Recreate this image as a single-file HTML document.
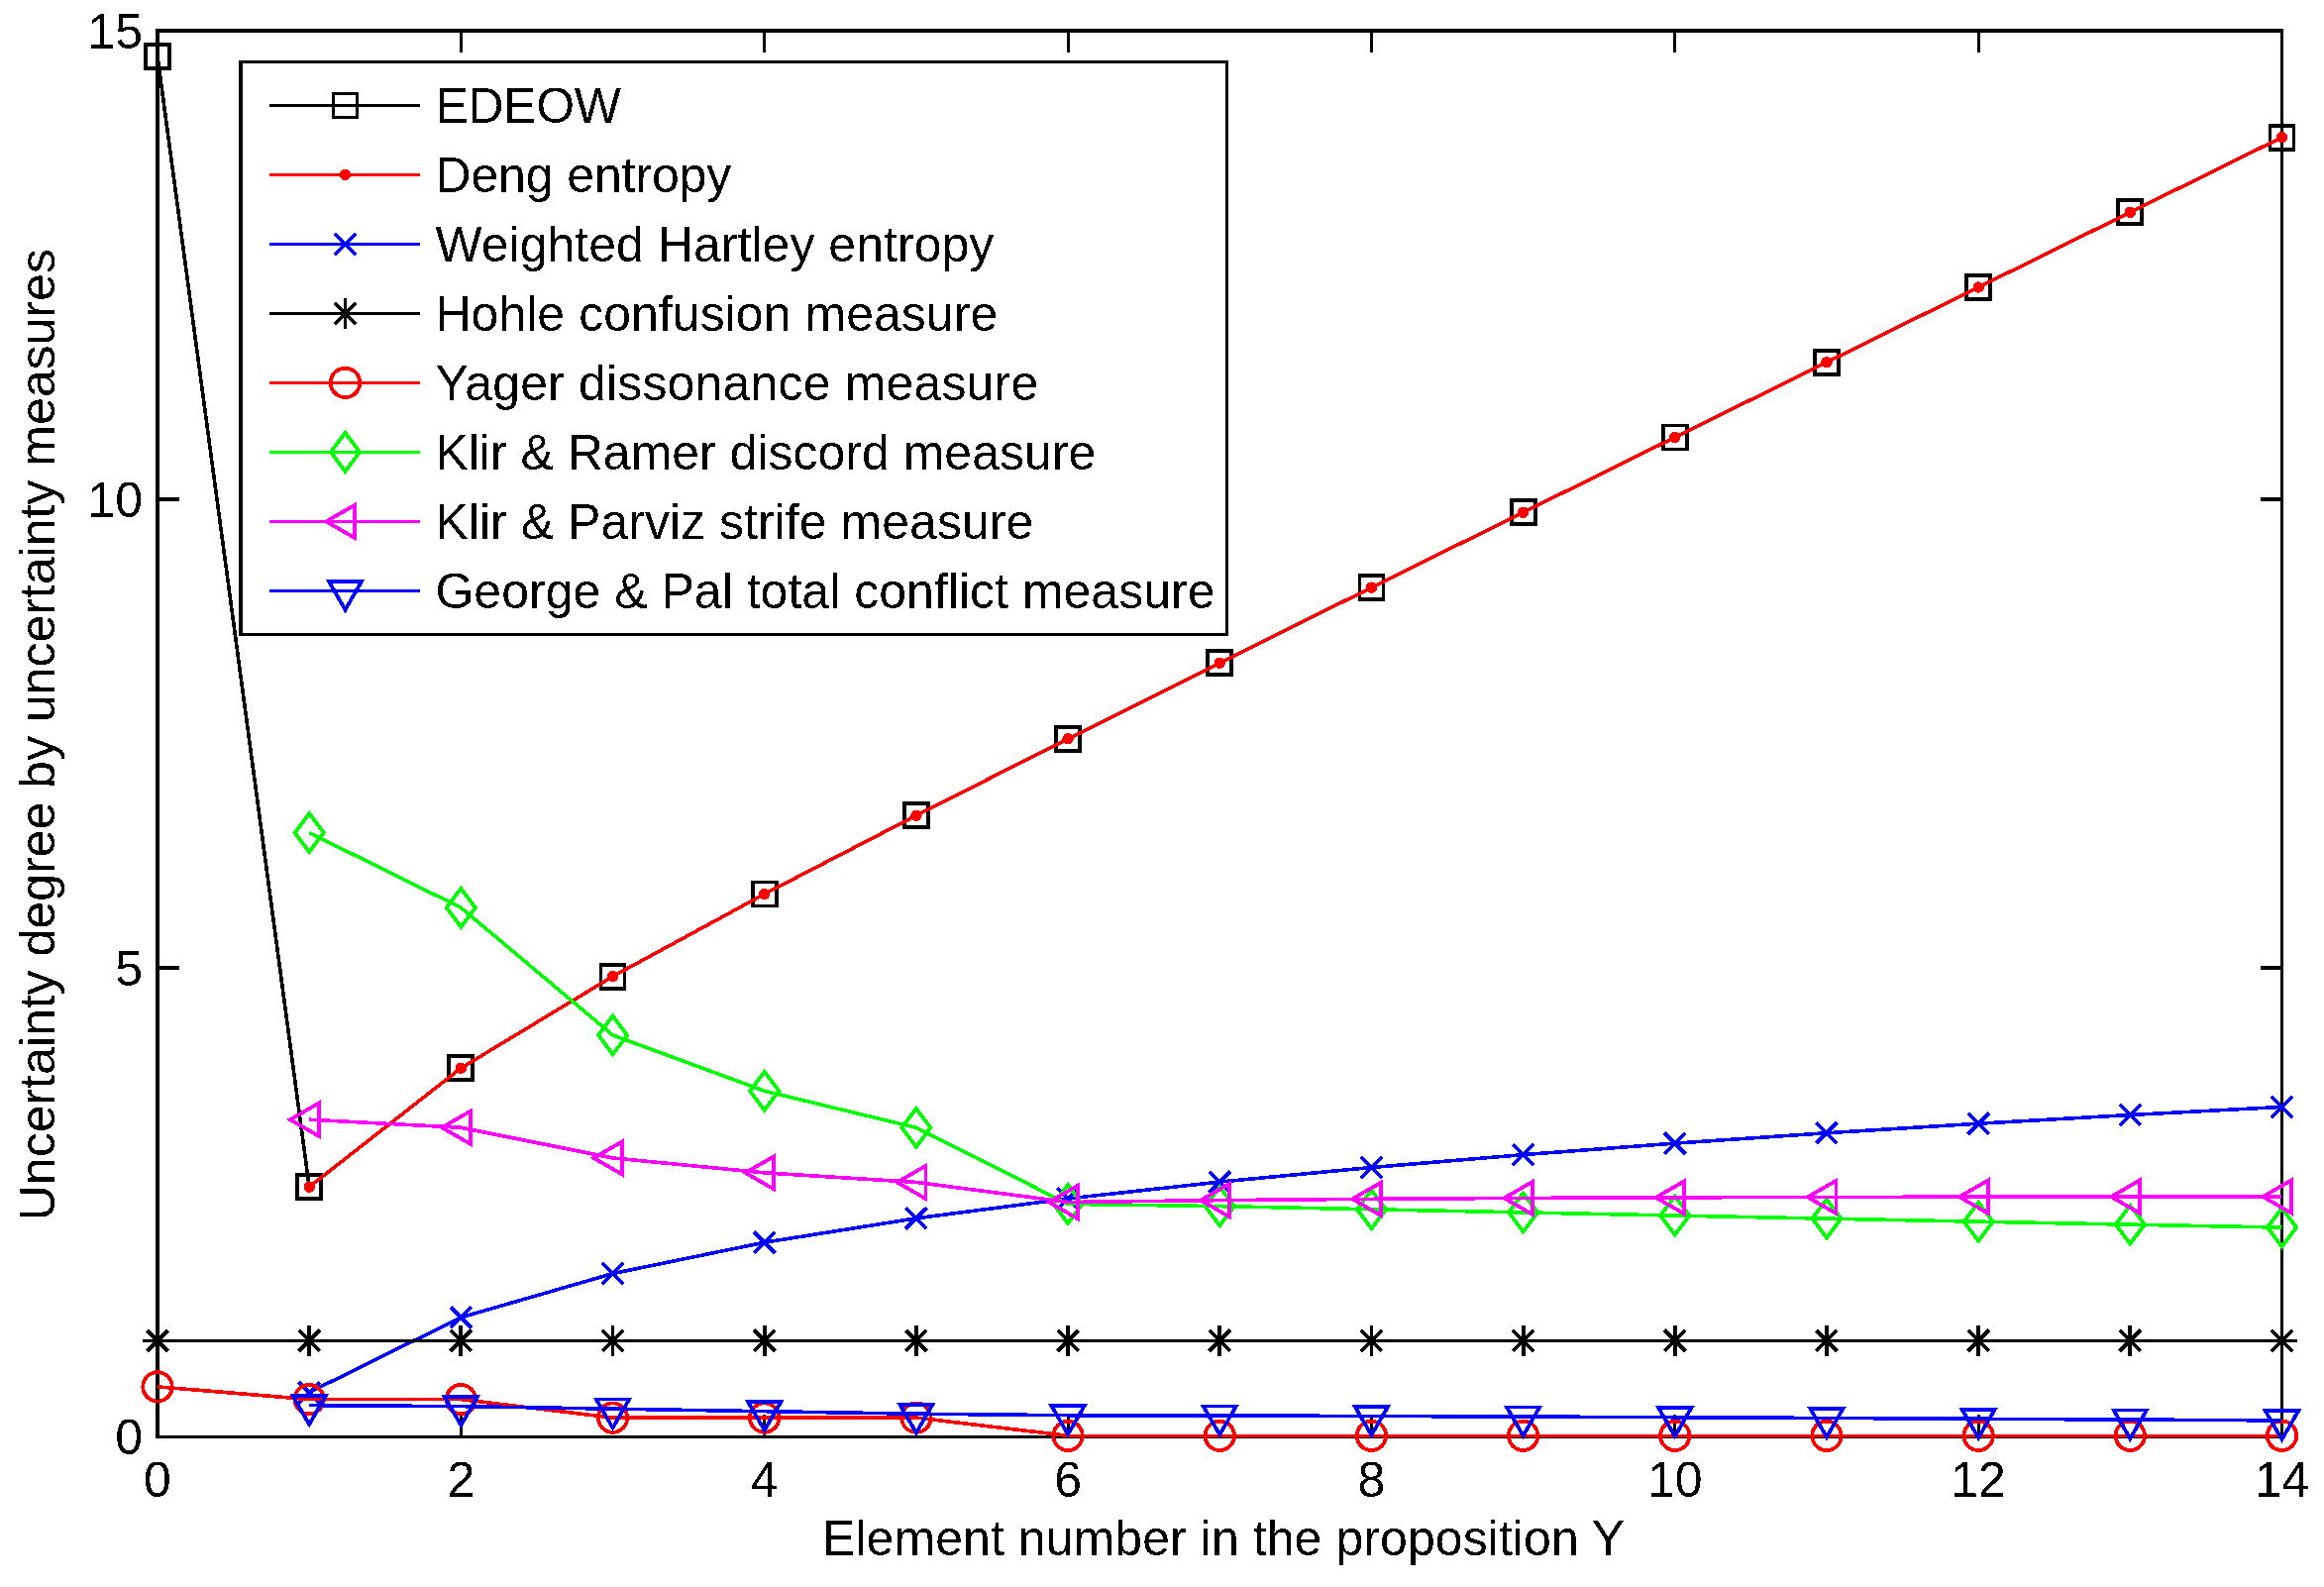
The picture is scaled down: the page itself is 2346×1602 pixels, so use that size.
<!DOCTYPE html>
<html lang="en"><head><meta charset="utf-8"><title>Uncertainty measures</title>
<style>html,body{margin:0;padding:0;background:#fff}body{width:2346px;height:1602px;overflow:hidden}svg{display:block}text{filter:url(#bw);font-family:"Liberation Sans",sans-serif;font-size:50px;fill:#000}</style></head><body>
<svg shape-rendering="crispEdges" width="2346" height="1602" viewBox="0 0 2346 1602">
<defs><filter id="bw" x="-5%" y="-20%" width="110%" height="140%" color-interpolation-filters="sRGB"><feComponentTransfer><feFuncA type="discrete" tableValues="0 1"/></feComponentTransfer></filter></defs>
<rect width="2346" height="1602" fill="#fff"/>
<g id="axes" stroke="#000" fill="none" shape-rendering="crispEdges">
<path d="M157 31H2305M159 29V1452" stroke-width="4"/>
<path d="M2303.5 29V1452" stroke-width="3"/>
<path d="M157 1450.25H2305" stroke-width="3.5"/>
<path d="M465.36 1450V1428.1M465.36 31V52.9M771.71 1450V1428.1M771.71 31V52.9M1078.07 1450V1428.1M1078.07 31V52.9M1384.43 1450V1428.1M1384.43 31V52.9M1690.79 1450V1428.1M1690.79 31V52.9M1997.14 1450V1428.1M1997.14 31V52.9" stroke-width="3"/>
<path d="M159 977H181.2M2303.5 977H2282M159 504H181.2M2303.5 504H2282" stroke-width="4"/>
</g>
<g id="xticks" text-anchor="middle">
<text x="159" y="1511">0</text>
<text x="465.36" y="1511">2</text>
<text x="771.71" y="1511">4</text>
<text x="1078.07" y="1511">6</text>
<text x="1384.43" y="1511">8</text>
<text x="1690.79" y="1511">10</text>
<text x="1997.14" y="1511">12</text>
<text x="2303.5" y="1511">14</text>
</g>
<g id="yticks" text-anchor="end">
<text x="144" y="1468.3">0</text>
<text x="144" y="995.3">5</text>
<text x="144" y="522.3">10</text>
<text x="144" y="49.3">15</text>
</g>
<text x="830" y="1570.2" textLength="810.2">Element number in the proposition Y</text>
<text transform="translate(55.2 1232.2) rotate(-90)" textLength="981">Uncertainty degree by uncertainty measures</text>
<g>
<polyline points="312.18,1198.15 465.36,1078.19 618.54,985.68 771.71,902.47 924.89,823.22 1078.07,745.79 1231.25,669.25 1384.43,593.13 1537.61,517.24 1690.79,441.45 1843.96,365.72 1997.14,290.01 2150.32,214.32 2303.5,138.64" fill="none" stroke="#000" stroke-width="2.6"/>
<polyline points="159,57.02 312.18,1198.15" fill="none" stroke="#000" stroke-width="3.6"/>
<rect x="147" y="45.02" width="24" height="24" fill="none" stroke="#000" stroke-width="3.8"/>
<rect x="300.18" y="1186.15" width="24" height="24" fill="none" stroke="#000" stroke-width="3.8"/>
<rect x="453.36" y="1066.19" width="24" height="24" fill="none" stroke="#000" stroke-width="3.8"/>
<rect x="606.54" y="973.68" width="24" height="24" fill="none" stroke="#000" stroke-width="3.8"/>
<rect x="759.71" y="890.47" width="24" height="24" fill="none" stroke="#000" stroke-width="3.8"/>
<rect x="912.89" y="811.22" width="24" height="24" fill="none" stroke="#000" stroke-width="3.8"/>
<rect x="1066.07" y="733.79" width="24" height="24" fill="none" stroke="#000" stroke-width="3.8"/>
<rect x="1219.25" y="657.25" width="24" height="24" fill="none" stroke="#000" stroke-width="3.8"/>
<rect x="1372.43" y="581.13" width="24" height="24" fill="none" stroke="#000" stroke-width="3.8"/>
<rect x="1525.61" y="505.24" width="24" height="24" fill="none" stroke="#000" stroke-width="3.8"/>
<rect x="1678.79" y="429.45" width="24" height="24" fill="none" stroke="#000" stroke-width="3.8"/>
<rect x="1831.96" y="353.72" width="24" height="24" fill="none" stroke="#000" stroke-width="3.8"/>
<rect x="1985.14" y="278.01" width="24" height="24" fill="none" stroke="#000" stroke-width="3.8"/>
<rect x="2138.32" y="202.32" width="24" height="24" fill="none" stroke="#000" stroke-width="3.8"/>
<rect x="2291.5" y="126.64" width="24" height="24" fill="none" stroke="#000" stroke-width="3.8"/>
</g>
<g>
<polyline points="312.18,1198.15 465.36,1078.19 618.54,985.68 771.71,902.47 924.89,823.22 1078.07,745.79 1231.25,669.25 1384.43,593.13 1537.61,517.24 1690.79,441.45 1843.96,365.72 1997.14,290.01 2150.32,214.32 2303.5,138.64" fill="none" stroke="#f00" stroke-width="3.6"/>
<circle cx="312.18" cy="1198.15" r="5.7" fill="#f00"/>
<circle cx="465.36" cy="1078.19" r="5.7" fill="#f00"/>
<circle cx="618.54" cy="985.68" r="5.7" fill="#f00"/>
<circle cx="771.71" cy="902.47" r="5.7" fill="#f00"/>
<circle cx="924.89" cy="823.22" r="5.7" fill="#f00"/>
<circle cx="1078.07" cy="745.79" r="5.7" fill="#f00"/>
<circle cx="1231.25" cy="669.25" r="5.7" fill="#f00"/>
<circle cx="1384.43" cy="593.13" r="5.7" fill="#f00"/>
<circle cx="1537.61" cy="517.24" r="5.7" fill="#f00"/>
<circle cx="1690.79" cy="441.45" r="5.7" fill="#f00"/>
<circle cx="1843.96" cy="365.72" r="5.7" fill="#f00"/>
<circle cx="1997.14" cy="290.01" r="5.7" fill="#f00"/>
<circle cx="2150.32" cy="214.32" r="5.7" fill="#f00"/>
<circle cx="2303.5" cy="138.64" r="5.7" fill="#f00"/>
</g>
<g>
<polyline points="312.18,1405.55 465.36,1329.87 618.54,1285.59 771.71,1254.19 924.89,1229.82 1078.07,1209.91 1231.25,1193.09 1384.43,1178.51 1537.61,1165.64 1690.79,1154.14 1843.96,1143.73 1997.14,1134.23 2150.32,1125.49 2303.5,1117.41" fill="none" stroke="#00f" stroke-width="3.6"/>
<path d="M301.58 1394.95L322.78 1416.15M301.58 1416.15L322.78 1394.95" stroke="#00f" stroke-width="3.8" fill="none"/>
<path d="M454.76 1319.27L475.96 1340.47M454.76 1340.47L475.96 1319.27" stroke="#00f" stroke-width="3.8" fill="none"/>
<path d="M607.94 1274.99L629.14 1296.19M607.94 1296.19L629.14 1274.99" stroke="#00f" stroke-width="3.8" fill="none"/>
<path d="M761.11 1243.59L782.31 1264.79M761.11 1264.79L782.31 1243.59" stroke="#00f" stroke-width="3.8" fill="none"/>
<path d="M914.29 1219.22L935.49 1240.42M914.29 1240.42L935.49 1219.22" stroke="#00f" stroke-width="3.8" fill="none"/>
<path d="M1067.47 1199.31L1088.67 1220.51M1067.47 1220.51L1088.67 1199.31" stroke="#00f" stroke-width="3.8" fill="none"/>
<path d="M1220.65 1182.49L1241.85 1203.69M1220.65 1203.69L1241.85 1182.49" stroke="#00f" stroke-width="3.8" fill="none"/>
<path d="M1373.83 1167.91L1395.03 1189.11M1373.83 1189.11L1395.03 1167.91" stroke="#00f" stroke-width="3.8" fill="none"/>
<path d="M1527.01 1155.04L1548.21 1176.24M1527.01 1176.24L1548.21 1155.04" stroke="#00f" stroke-width="3.8" fill="none"/>
<path d="M1680.19 1143.54L1701.39 1164.74M1680.19 1164.74L1701.39 1143.54" stroke="#00f" stroke-width="3.8" fill="none"/>
<path d="M1833.36 1133.13L1854.56 1154.33M1833.36 1154.33L1854.56 1133.13" stroke="#00f" stroke-width="3.8" fill="none"/>
<path d="M1986.54 1123.63L2007.74 1144.83M1986.54 1144.83L2007.74 1123.63" stroke="#00f" stroke-width="3.8" fill="none"/>
<path d="M2139.72 1114.89L2160.92 1136.09M2139.72 1136.09L2160.92 1114.89" stroke="#00f" stroke-width="3.8" fill="none"/>
<path d="M2292.9 1106.81L2314.1 1128.01M2292.9 1128.01L2314.1 1106.81" stroke="#00f" stroke-width="3.8" fill="none"/>
</g>
<g>
<polyline points="159,1353.33 312.18,1353.33 465.36,1353.33 618.54,1353.33 771.71,1353.33 924.89,1353.33 1078.07,1353.33 1231.25,1353.33 1384.43,1353.33 1537.61,1353.33 1690.79,1353.33 1843.96,1353.33 1997.14,1353.33 2150.32,1353.33 2303.5,1353.33" fill="none" stroke="#000" stroke-width="3.6"/>
<path d="M148.4 1342.73L169.6 1363.93M148.4 1363.93L169.6 1342.73M159 1337.83L159 1368.83" stroke="#000" stroke-width="3.8" fill="none"/><path d="M143.5 1353.33L174.5 1353.33" stroke="#000" stroke-width="3.6" fill="none"/>
<path d="M301.58 1342.73L322.78 1363.93M301.58 1363.93L322.78 1342.73M312.18 1337.83L312.18 1368.83" stroke="#000" stroke-width="3.8" fill="none"/><path d="M296.68 1353.33L327.68 1353.33" stroke="#000" stroke-width="3.6" fill="none"/>
<path d="M454.76 1342.73L475.96 1363.93M454.76 1363.93L475.96 1342.73M465.36 1337.83L465.36 1368.83" stroke="#000" stroke-width="3.8" fill="none"/><path d="M449.86 1353.33L480.86 1353.33" stroke="#000" stroke-width="3.6" fill="none"/>
<path d="M607.94 1342.73L629.14 1363.93M607.94 1363.93L629.14 1342.73M618.54 1337.83L618.54 1368.83" stroke="#000" stroke-width="3.8" fill="none"/><path d="M603.04 1353.33L634.04 1353.33" stroke="#000" stroke-width="3.6" fill="none"/>
<path d="M761.11 1342.73L782.31 1363.93M761.11 1363.93L782.31 1342.73M771.71 1337.83L771.71 1368.83" stroke="#000" stroke-width="3.8" fill="none"/><path d="M756.21 1353.33L787.21 1353.33" stroke="#000" stroke-width="3.6" fill="none"/>
<path d="M914.29 1342.73L935.49 1363.93M914.29 1363.93L935.49 1342.73M924.89 1337.83L924.89 1368.83" stroke="#000" stroke-width="3.8" fill="none"/><path d="M909.39 1353.33L940.39 1353.33" stroke="#000" stroke-width="3.6" fill="none"/>
<path d="M1067.47 1342.73L1088.67 1363.93M1067.47 1363.93L1088.67 1342.73M1078.07 1337.83L1078.07 1368.83" stroke="#000" stroke-width="3.8" fill="none"/><path d="M1062.57 1353.33L1093.57 1353.33" stroke="#000" stroke-width="3.6" fill="none"/>
<path d="M1220.65 1342.73L1241.85 1363.93M1220.65 1363.93L1241.85 1342.73M1231.25 1337.83L1231.25 1368.83" stroke="#000" stroke-width="3.8" fill="none"/><path d="M1215.75 1353.33L1246.75 1353.33" stroke="#000" stroke-width="3.6" fill="none"/>
<path d="M1373.83 1342.73L1395.03 1363.93M1373.83 1363.93L1395.03 1342.73M1384.43 1337.83L1384.43 1368.83" stroke="#000" stroke-width="3.8" fill="none"/><path d="M1368.93 1353.33L1399.93 1353.33" stroke="#000" stroke-width="3.6" fill="none"/>
<path d="M1527.01 1342.73L1548.21 1363.93M1527.01 1363.93L1548.21 1342.73M1537.61 1337.83L1537.61 1368.83" stroke="#000" stroke-width="3.8" fill="none"/><path d="M1522.11 1353.33L1553.11 1353.33" stroke="#000" stroke-width="3.6" fill="none"/>
<path d="M1680.19 1342.73L1701.39 1363.93M1680.19 1363.93L1701.39 1342.73M1690.79 1337.83L1690.79 1368.83" stroke="#000" stroke-width="3.8" fill="none"/><path d="M1675.29 1353.33L1706.29 1353.33" stroke="#000" stroke-width="3.6" fill="none"/>
<path d="M1833.36 1342.73L1854.56 1363.93M1833.36 1363.93L1854.56 1342.73M1843.96 1337.83L1843.96 1368.83" stroke="#000" stroke-width="3.8" fill="none"/><path d="M1828.46 1353.33L1859.46 1353.33" stroke="#000" stroke-width="3.6" fill="none"/>
<path d="M1986.54 1342.73L2007.74 1363.93M1986.54 1363.93L2007.74 1342.73M1997.14 1337.83L1997.14 1368.83" stroke="#000" stroke-width="3.8" fill="none"/><path d="M1981.64 1353.33L2012.64 1353.33" stroke="#000" stroke-width="3.6" fill="none"/>
<path d="M2139.72 1342.73L2160.92 1363.93M2139.72 1363.93L2160.92 1342.73M2150.32 1337.83L2150.32 1368.83" stroke="#000" stroke-width="3.8" fill="none"/><path d="M2134.82 1353.33L2165.82 1353.33" stroke="#000" stroke-width="3.6" fill="none"/>
<path d="M2292.9 1342.73L2314.1 1363.93M2292.9 1363.93L2314.1 1342.73M2303.5 1337.83L2303.5 1368.83" stroke="#000" stroke-width="3.8" fill="none"/><path d="M2288 1353.33L2319 1353.33" stroke="#000" stroke-width="3.6" fill="none"/>
</g>
<g>
<polyline points="159,1399.86 312.18,1412.6 465.36,1412.6 618.54,1431.11 771.71,1431.11 924.89,1431.11 1078.07,1449.3 1231.25,1449.3 1384.43,1449.3 1537.61,1449.3 1690.79,1449.3 1843.96,1449.3 1997.14,1449.3 2150.32,1449.3 2303.5,1449.3" fill="none" stroke="#f00" stroke-width="3.6"/>
<circle cx="159" cy="1399.86" r="14.7" fill="none" stroke="#f00" stroke-width="3.8"/>
<circle cx="312.18" cy="1412.6" r="14.7" fill="none" stroke="#f00" stroke-width="3.8"/>
<circle cx="465.36" cy="1412.6" r="14.7" fill="none" stroke="#f00" stroke-width="3.8"/>
<circle cx="618.54" cy="1431.11" r="14.7" fill="none" stroke="#f00" stroke-width="3.8"/>
<circle cx="771.71" cy="1431.11" r="14.7" fill="none" stroke="#f00" stroke-width="3.8"/>
<circle cx="924.89" cy="1431.11" r="14.7" fill="none" stroke="#f00" stroke-width="3.8"/>
<circle cx="1078.07" cy="1449.3" r="14.7" fill="none" stroke="#f00" stroke-width="3.8"/>
<circle cx="1231.25" cy="1449.3" r="14.7" fill="none" stroke="#f00" stroke-width="3.8"/>
<circle cx="1384.43" cy="1449.3" r="14.7" fill="none" stroke="#f00" stroke-width="3.8"/>
<circle cx="1537.61" cy="1449.3" r="14.7" fill="none" stroke="#f00" stroke-width="3.8"/>
<circle cx="1690.79" cy="1449.3" r="14.7" fill="none" stroke="#f00" stroke-width="3.8"/>
<circle cx="1843.96" cy="1449.3" r="14.7" fill="none" stroke="#f00" stroke-width="3.8"/>
<circle cx="1997.14" cy="1449.3" r="14.7" fill="none" stroke="#f00" stroke-width="3.8"/>
<circle cx="2150.32" cy="1449.3" r="14.7" fill="none" stroke="#f00" stroke-width="3.8"/>
<circle cx="2303.5" cy="1449.3" r="14.7" fill="none" stroke="#f00" stroke-width="3.8"/>
</g>
<g>
<polyline points="312.18,840.6 465.36,916.28 618.54,1044.89 771.71,1101.28 924.89,1138.33 1078.07,1215.39 1231.25,1217.64 1384.43,1220.78 1537.61,1223.92 1690.79,1227.05 1843.96,1230.14 1997.14,1233.18 2150.32,1236.16 2303.5,1239.08" fill="none" stroke="#0f0" stroke-width="3.6"/>
<path d="M312.18 821.2L326.78 840.6L312.18 860L297.58 840.6Z" stroke="#0f0" stroke-width="3.8" fill="none" stroke-miterlimit="10"/>
<path d="M465.36 896.88L479.96 916.28L465.36 935.68L450.76 916.28Z" stroke="#0f0" stroke-width="3.8" fill="none" stroke-miterlimit="10"/>
<path d="M618.54 1025.49L633.14 1044.89L618.54 1064.29L603.94 1044.89Z" stroke="#0f0" stroke-width="3.8" fill="none" stroke-miterlimit="10"/>
<path d="M771.71 1081.88L786.31 1101.28L771.71 1120.68L757.11 1101.28Z" stroke="#0f0" stroke-width="3.8" fill="none" stroke-miterlimit="10"/>
<path d="M924.89 1118.93L939.49 1138.33L924.89 1157.73L910.29 1138.33Z" stroke="#0f0" stroke-width="3.8" fill="none" stroke-miterlimit="10"/>
<path d="M1078.07 1195.99L1092.67 1215.39L1078.07 1234.79L1063.47 1215.39Z" stroke="#0f0" stroke-width="3.8" fill="none" stroke-miterlimit="10"/>
<path d="M1231.25 1198.24L1245.85 1217.64L1231.25 1237.04L1216.65 1217.64Z" stroke="#0f0" stroke-width="3.8" fill="none" stroke-miterlimit="10"/>
<path d="M1384.43 1201.38L1399.03 1220.78L1384.43 1240.18L1369.83 1220.78Z" stroke="#0f0" stroke-width="3.8" fill="none" stroke-miterlimit="10"/>
<path d="M1537.61 1204.52L1552.21 1223.92L1537.61 1243.32L1523.01 1223.92Z" stroke="#0f0" stroke-width="3.8" fill="none" stroke-miterlimit="10"/>
<path d="M1690.79 1207.65L1705.39 1227.05L1690.79 1246.45L1676.19 1227.05Z" stroke="#0f0" stroke-width="3.8" fill="none" stroke-miterlimit="10"/>
<path d="M1843.96 1210.74L1858.56 1230.14L1843.96 1249.54L1829.36 1230.14Z" stroke="#0f0" stroke-width="3.8" fill="none" stroke-miterlimit="10"/>
<path d="M1997.14 1213.78L2011.74 1233.18L1997.14 1252.58L1982.54 1233.18Z" stroke="#0f0" stroke-width="3.8" fill="none" stroke-miterlimit="10"/>
<path d="M2150.32 1216.76L2164.92 1236.16L2150.32 1255.56L2135.72 1236.16Z" stroke="#0f0" stroke-width="3.8" fill="none" stroke-miterlimit="10"/>
<path d="M2303.5 1219.68L2318.1 1239.08L2303.5 1258.48L2288.9 1239.08Z" stroke="#0f0" stroke-width="3.8" fill="none" stroke-miterlimit="10"/>
</g>
<g>
<polyline points="312.18,1130.21 465.36,1138.24 618.54,1168.95 771.71,1183.87 924.89,1193.44 1078.07,1213.5 1231.25,1211.63 1384.43,1210.32 1537.61,1209.42 1690.79,1208.83 1843.96,1208.43 1997.14,1208.18 2150.32,1208.04 2303.5,1207.99" fill="none" stroke="#f0f" stroke-width="3.6"/>
<path d="M292.98 1130.21L321.78 1113.61L321.78 1146.81Z" stroke="#f0f" stroke-width="3.8" fill="none" stroke-miterlimit="10"/>
<path d="M446.16 1138.24L474.96 1121.64L474.96 1154.84Z" stroke="#f0f" stroke-width="3.8" fill="none" stroke-miterlimit="10"/>
<path d="M599.34 1168.95L628.14 1152.35L628.14 1185.55Z" stroke="#f0f" stroke-width="3.8" fill="none" stroke-miterlimit="10"/>
<path d="M752.51 1183.87L781.31 1167.27L781.31 1200.47Z" stroke="#f0f" stroke-width="3.8" fill="none" stroke-miterlimit="10"/>
<path d="M905.69 1193.44L934.49 1176.84L934.49 1210.04Z" stroke="#f0f" stroke-width="3.8" fill="none" stroke-miterlimit="10"/>
<path d="M1058.87 1213.5L1087.67 1196.9L1087.67 1230.1Z" stroke="#f0f" stroke-width="3.8" fill="none" stroke-miterlimit="10"/>
<path d="M1212.05 1211.63L1240.85 1195.03L1240.85 1228.23Z" stroke="#f0f" stroke-width="3.8" fill="none" stroke-miterlimit="10"/>
<path d="M1365.23 1210.32L1394.03 1193.72L1394.03 1226.92Z" stroke="#f0f" stroke-width="3.8" fill="none" stroke-miterlimit="10"/>
<path d="M1518.41 1209.42L1547.21 1192.82L1547.21 1226.02Z" stroke="#f0f" stroke-width="3.8" fill="none" stroke-miterlimit="10"/>
<path d="M1671.59 1208.83L1700.39 1192.23L1700.39 1225.43Z" stroke="#f0f" stroke-width="3.8" fill="none" stroke-miterlimit="10"/>
<path d="M1824.76 1208.43L1853.56 1191.83L1853.56 1225.03Z" stroke="#f0f" stroke-width="3.8" fill="none" stroke-miterlimit="10"/>
<path d="M1977.94 1208.18L2006.74 1191.58L2006.74 1224.78Z" stroke="#f0f" stroke-width="3.8" fill="none" stroke-miterlimit="10"/>
<path d="M2131.12 1208.04L2159.92 1191.44L2159.92 1224.64Z" stroke="#f0f" stroke-width="3.8" fill="none" stroke-miterlimit="10"/>
<path d="M2284.3 1207.99L2313.1 1191.39L2313.1 1224.59Z" stroke="#f0f" stroke-width="3.8" fill="none" stroke-miterlimit="10"/>
</g>
<g>
<polyline points="312.18,1418.62 465.36,1419.63 618.54,1422.16 771.71,1424.68 924.89,1427.2 1078.07,1428.71 1231.25,1429.01 1384.43,1429.47 1537.61,1430.06 1690.79,1430.73 1843.96,1431.47 1997.14,1432.24 2150.32,1433.06 2303.5,1433.91" fill="none" stroke="#00f" stroke-width="3.6"/>
<path d="M312.18 1437.82L295.58 1409.02L328.78 1409.02Z" stroke="#00f" stroke-width="3.8" fill="none" stroke-miterlimit="10"/>
<path d="M465.36 1438.83L448.76 1410.03L481.96 1410.03Z" stroke="#00f" stroke-width="3.8" fill="none" stroke-miterlimit="10"/>
<path d="M618.54 1441.36L601.94 1412.56L635.14 1412.56Z" stroke="#00f" stroke-width="3.8" fill="none" stroke-miterlimit="10"/>
<path d="M771.71 1443.88L755.11 1415.08L788.31 1415.08Z" stroke="#00f" stroke-width="3.8" fill="none" stroke-miterlimit="10"/>
<path d="M924.89 1446.4L908.29 1417.6L941.49 1417.6Z" stroke="#00f" stroke-width="3.8" fill="none" stroke-miterlimit="10"/>
<path d="M1078.07 1447.91L1061.47 1419.12L1094.67 1419.12Z" stroke="#00f" stroke-width="3.8" fill="none" stroke-miterlimit="10"/>
<path d="M1231.25 1448.21L1214.65 1419.41L1247.85 1419.41Z" stroke="#00f" stroke-width="3.8" fill="none" stroke-miterlimit="10"/>
<path d="M1384.43 1448.67L1367.83 1419.87L1401.03 1419.87Z" stroke="#00f" stroke-width="3.8" fill="none" stroke-miterlimit="10"/>
<path d="M1537.61 1449.26L1521.01 1420.46L1554.21 1420.46Z" stroke="#00f" stroke-width="3.8" fill="none" stroke-miterlimit="10"/>
<path d="M1690.79 1449.93L1674.19 1421.13L1707.39 1421.13Z" stroke="#00f" stroke-width="3.8" fill="none" stroke-miterlimit="10"/>
<path d="M1843.96 1450.67L1827.36 1421.87L1860.56 1421.87Z" stroke="#00f" stroke-width="3.8" fill="none" stroke-miterlimit="10"/>
<path d="M1997.14 1451.44L1980.54 1422.64L2013.74 1422.64Z" stroke="#00f" stroke-width="3.8" fill="none" stroke-miterlimit="10"/>
<path d="M2150.32 1452.26L2133.72 1423.46L2166.92 1423.46Z" stroke="#00f" stroke-width="3.8" fill="none" stroke-miterlimit="10"/>
<path d="M2303.5 1453.11L2286.9 1424.31L2320.1 1424.31Z" stroke="#00f" stroke-width="3.8" fill="none" stroke-miterlimit="10"/>
</g>
<g id="legend">
<rect x="243" y="62.5" width="995.5" height="578" fill="#fff" stroke="#000" stroke-width="3.2" shape-rendering="crispEdges"/>
<path d="M272 106.4H424" stroke="#000" stroke-width="3.6" fill="none"/>
<rect x="336.5" y="94.4" width="24" height="24" fill="none" stroke="#000" stroke-width="3.8"/>
<text x="439.4" y="123.9" textLength="187.6">EDEOW</text>
<path d="M272 176.4H424" stroke="#f00" stroke-width="3.6" fill="none"/>
<circle cx="348.5" cy="176.4" r="5.7" fill="#f00"/>
<text x="439.4" y="193.9" textLength="298.9">Deng entropy</text>
<path d="M272 246.4H424" stroke="#00f" stroke-width="3.6" fill="none"/>
<path d="M337.9 235.8L359.1 257M337.9 257L359.1 235.8" stroke="#00f" stroke-width="3.8" fill="none"/>
<text x="439.4" y="263.9" textLength="563.9">Weighted Hartley entropy</text>
<path d="M272 316.4H424" stroke="#000" stroke-width="3.6" fill="none"/>
<path d="M337.9 305.8L359.1 327M337.9 327L359.1 305.8M348.5 300.9L348.5 331.9" stroke="#000" stroke-width="3.8" fill="none"/><path d="M333 316.4L364 316.4" stroke="#000" stroke-width="3.6" fill="none"/>
<text x="439.4" y="333.9" textLength="567.8">Hohle confusion measure</text>
<path d="M272 386.4H424" stroke="#f00" stroke-width="3.6" fill="none"/>
<circle cx="348.5" cy="386.4" r="14.7" fill="none" stroke="#f00" stroke-width="3.8"/>
<text x="439.4" y="403.9" textLength="608.8">Yager dissonance measure</text>
<path d="M272 456.4H424" stroke="#0f0" stroke-width="3.6" fill="none"/>
<path d="M348.5 437L363.1 456.4L348.5 475.8L333.9 456.4Z" stroke="#0f0" stroke-width="3.8" fill="none" stroke-miterlimit="10"/>
<text x="439.4" y="473.9" textLength="666.8">Klir &amp; Ramer discord measure</text>
<path d="M272 526.4H424" stroke="#f0f" stroke-width="3.6" fill="none"/>
<path d="M329.3 526.4L358.1 509.8L358.1 543Z" stroke="#f0f" stroke-width="3.8" fill="none" stroke-miterlimit="10"/>
<text x="439.4" y="543.9" textLength="603.9">Klir &amp; Parviz strife measure</text>
<path d="M272 596.4H424" stroke="#00f" stroke-width="3.6" fill="none"/>
<path d="M348.5 615.6L331.9 586.8L365.1 586.8Z" stroke="#00f" stroke-width="3.8" fill="none" stroke-miterlimit="10"/>
<text x="439.4" y="613.9" textLength="787.1">George &amp; Pal total conflict measure</text>
</g>
</svg></body></html>
